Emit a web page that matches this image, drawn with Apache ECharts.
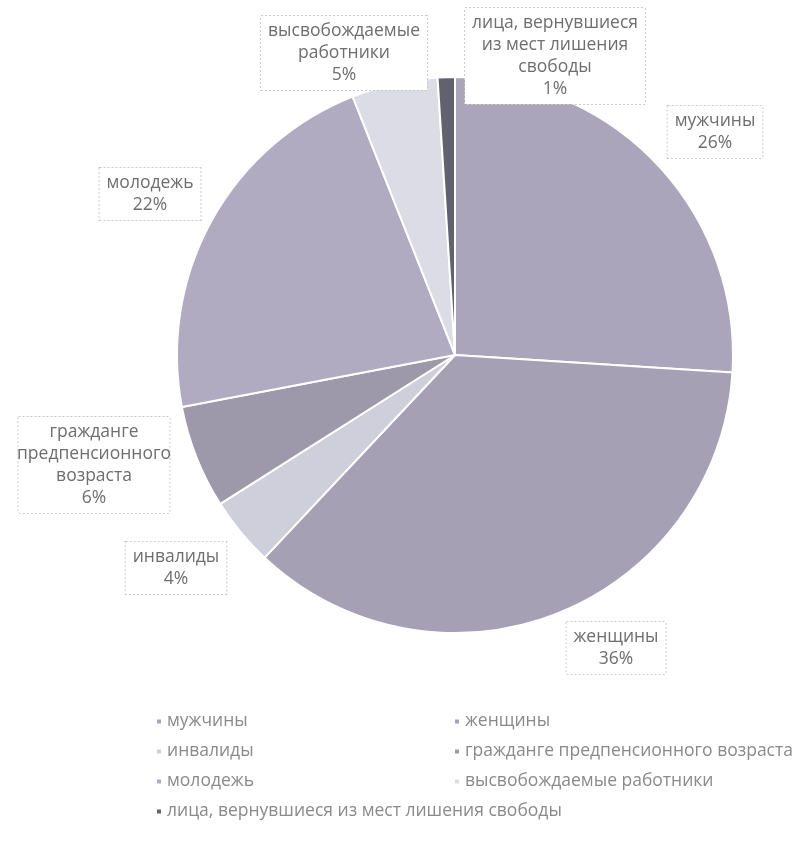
<!DOCTYPE html>
<html><head><meta charset="utf-8">
<script src="https://cdn.jsdelivr.net/npm/echarts@6/dist/echarts.min.js"></script>
<style>html,body{margin:0;padding:0;background:#fff}#c{width:807px;height:843px}</style>
</head><body><div id="c"></div>
<script>
const categories = ['мужчины','женщины','инвалиды','гражданге предпенсионного возраста','молодежь','высвобождаемые работники','лица, вернувшиеся из мест лишения свободы'];
const labelTexts = ['мужчины','женщины','инвалиды','гражданге\nпредпенсионного\nвозраста','молодежь','высвобождаемые\nработники','лица, вернувшиеся\nиз мест лишения\nсвободы'];
const values = [26, 36, 4, 6, 22, 5, 1];
const colors = ['#aaa5ba','#a5a0b4','#cfcfdc','#9e99aa','#b0abc0','#dcdce6','#62626e'];

// label box centres (layout only, not data)
const labelCentres = [[715,132],[616,648],[176,568],[94,465],[150,194],[344,53],[555,56]];

const chart = echarts.init(document.getElementById('c'));
const FONT = 'Open Sans';
chart.setOption({
  animation: false,
  color: colors,
  legend: {
    left: 150, top: 706, width: 660,
    itemWidth: 6, itemHeight: 6, itemGap: 9, icon: 'rect',
    textStyle: { color: '#8a8a8a', fontFamily: FONT, fontSize: 17.5, width: 277, lineHeight: 21 }
  },
  series: [{
    type: 'pie',
    center: [455, 355], radius: 278,
    startAngle: 90, clockwise: true,
    itemStyle: { borderColor: '#fff', borderWidth: 2 },
    label: {
      position: 'outside',
      overflow: 'none',
      edgeDistance: 0,
      bleedMargin: 0,
      formatter: p => labelTexts[p.dataIndex] + '\n' + p.percent + '%',
      color: '#6e6e6e', fontFamily: FONT, fontSize: 17.5, lineHeight: 22, align: 'center',
      backgroundColor: '#fff', borderColor: '#cacaca', borderWidth: 1, borderType: 'dotted',
      padding: [4, 7]
    },
    labelLine: { show: false },
    labelLayout: p => ({
      x: labelCentres[p.dataIndex][0], y: labelCentres[p.dataIndex][1],
      align: 'center', verticalAlign: 'middle'
    }),
    data: categories.map((n, i) => ({ name: n, value: values[i] }))
  }]
});
</script></body></html>
